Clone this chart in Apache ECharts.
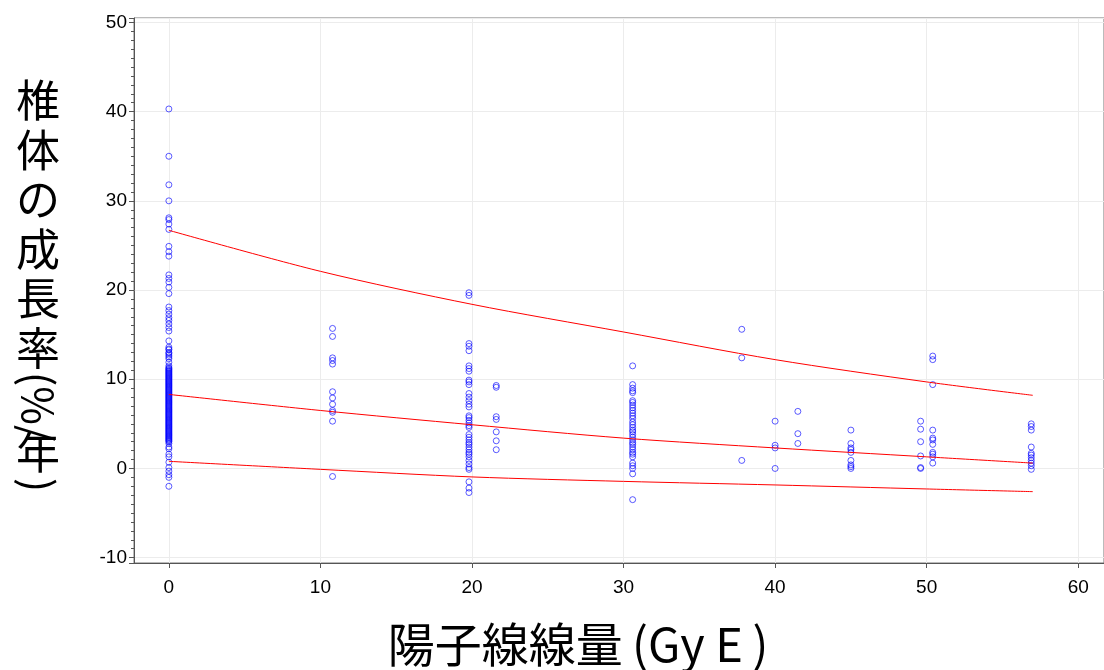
<!DOCTYPE html>
<html>
<head>
<meta charset="utf-8">
<script src="https://cdn.jsdelivr.net/npm/echarts@6/dist/echarts.min.js"></script>
<style>
html, body { margin: 0; padding: 0; background: #fff; }
#main { width: 1104px; height: 670px; }
</style>
</head>
<body>
<div id="main"></div>
<script>
// dose levels (Gy E) and growth rate values observed at each level
var dose0 = [40.3, 35.0, 31.8, 30.0, 28.1, 27.9, 27.4, 26.8, 24.9, 24.3, 23.8, 21.7, 21.3, 20.9, 20.3, 19.6,
    18.1, 17.7, 17.3, 16.9, 16.6, 16.2, 15.8, 15.4, 14.3, 13.6, 13.4, 13.3, 13.0, 12.9, 12.7, 12.5, 12.3,
    11.9, 11.5, 11.3, 11.2, 11.1, 11.0, 10.9, 10.8, 10.7, 10.6, 10.5, 10.4, 10.3, 10.2, 10.1, 10.0, 9.9,
    9.8, 9.7, 9.6, 9.5, 9.4, 9.3, 9.2, 9.1, 9.0, 8.9, 8.8, 8.7, 8.6, 8.5, 8.4, 8.3, 8.2, 8.1, 8.0, 7.9,
    7.8, 7.7, 7.6, 7.5, 7.4, 7.3, 7.2, 7.1, 7.0, 6.9, 6.8, 6.7, 6.6, 6.5, 6.4, 6.3, 6.2, 6.1, 6.0, 5.9,
    5.8, 5.7, 5.6, 5.5, 5.4, 5.3, 5.2, 5.1, 5.0, 4.9, 4.8, 4.7, 4.6, 4.5, 4.4, 4.3, 4.2, 4.1, 4.0, 3.9,
    3.8, 3.7, 3.6, 3.5, 3.4, 3.3, 3.2, 3.1, 3.0, 2.8, 2.4, 2.2, 1.6, 1.3, 0.7, 0.1, -0.3, -0.7, -1.0, -2.0];
var dose10_8 = [15.7, 14.8, 12.4, 12.1, 11.7, 8.6, 7.9, 7.2, 6.5, 6.3, 5.3, -0.9];
var dose19_8 = [19.7, 19.4, 14.0, 13.7, 13.2, 11.5, 11.2, 10.9, 9.9, 9.7, 9.4, 8.4, 8.0, 7.6, 7.2, 6.9,
    5.9, 5.7, 5.4, 5.1, 4.8, 4.6, 3.8, 3.5, 3.2, 2.9, 2.7, 2.4, 2.1, 1.8, 1.6, 1.3, 0.9, 0.5, 0.1, -0.1,
    -1.5, -2.2, -2.7];
var dose21_6 = [9.3, 9.1, 5.8, 5.5, 4.1, 3.1, 2.1];
var dose30_6 = [11.5, 9.4, 9.0, 8.7, 8.5, 7.6, 7.4, 7.1, 6.8, 6.5, 6.2, 5.9, 5.6, 5.2, 4.9, 4.6, 4.3, 4.1,
    3.8, 3.5, 3.2, 2.9, 2.7, 2.4, 2.1, 1.8, 1.6, 1.3, 0.6, 0.3, 0.0, -0.6, -3.5];
var dose37_8 = [15.6, 12.4, 0.9];
var dose40 = [5.3, 2.6, 2.3, 0.0];
var dose41_5 = [6.4, 3.9, 2.8];
var dose45 = [4.3, 2.8, 2.3, 2.1, 1.8, 0.9, 0.4, 0.2, 0.0];
var dose49_6 = [5.3, 4.4, 3.0, 1.4, 0.0, 0.1];
var dose50_4 = [12.6, 12.2, 9.4, 4.3, 3.4, 3.2, 2.7, 1.8, 1.6, 1.3, 0.6];
var dose56_9 = [5.0, 4.7, 4.3, 2.4, 1.7, 1.5, 1.2, 0.9, 0.6, 0.3, -0.1];

var doseLevels = [0, 10.8, 19.8, 21.6, 30.6, 37.8, 40, 41.5, 45, 49.6, 50.4, 56.9];
var doseValues = [dose0, dose10_8, dose19_8, dose21_6, dose30_6, dose37_8, dose40, dose41_5, dose45, dose49_6, dose50_4, dose56_9];

// fitted curve and its band
var curveX = [0, 10, 20, 30, 40, 50, 57];
var upperY = [26.7, 22.1, 18.4, 15.3, 12.2, 9.7, 8.2];
var fitY = [8.3, 6.5, 4.9, 3.4, 2.3, 1.3, 0.6];
var lowerY = [0.8, -0.1, -0.95, -1.45, -1.85, -2.3, -2.6];

var points = [];
doseLevels.forEach(function (d, i) {
    doseValues[i].forEach(function (v) { points.push([d, v]); });
});

function curve(ys) {
    return curveX.map(function (x, i) { return [x, ys[i]]; });
}

var chartDom = document.getElementById('main');
var myChart = echarts.init(chartDom);
var option;

var lineStyle = { color: '#ff0000', width: 1 };
var cjk = '"Noto Sans CJK JP", sans-serif';
var latin = '"Liberation Sans", Arial, sans-serif';

option = {
    animation: false,
    backgroundColor: '#ffffff',
    grid: {
        left: 134,
        top: 18,
        right: 0,
        bottom: 107,
        show: true,
        borderColor: '#777',
        borderWidth: 1,
        backgroundColor: 'transparent'
    },
    xAxis: {
        type: 'value',
        min: -2.3,
        max: 61.7,
        splitNumber: 6,
        axisLine: { show: true, onZero: false, lineStyle: { color: '#555', width: 1 } },
        axisTick: { show: true, length: 5, lineStyle: { color: '#555' } },
        axisLabel: {
            color: '#000', fontSize: 19, margin: 15, fontFamily: latin,
            showMinLabel: false, showMaxLabel: false
        },
        splitLine: { show: true, lineStyle: { color: '#ececec', width: 1 } }
    },
    yAxis: {
        type: 'value',
        min: -10.6,
        max: 50.5,
        splitNumber: 6,
        axisLine: { show: true, onZero: false, lineStyle: { color: '#555', width: 1 } },
        axisTick: { show: true, length: 5, lineStyle: { color: '#555' } },
        minorTick: { show: true, splitNumber: 10, length: 3, lineStyle: { color: '#555' } },
        axisLabel: {
            color: '#000', fontSize: 19, margin: 7, fontFamily: latin,
            showMinLabel: false, showMaxLabel: false
        },
        splitLine: { show: true, lineStyle: { color: '#ececec', width: 1 } }
    },
    graphic: [
        {
            type: 'text', x: 578, y: 621,
            style: { text: '陽子線線量\u2009(Gy E\u2009)', font: '47px ' + cjk, fill: '#000', align: 'center' }
        },
        {
            type: 'text', x: 38, y: 76,
            style: {
                text: '椎\n体\nの\n成\n長\n率', font: '44px ' + cjk, fill: '#000',
                align: 'center', lineHeight: 49.5
            }
        },
        {
            type: 'text', x: 38, y: 372, rotation: -Math.PI / 2,
            style: { text: '(%/', font: '42px ' + cjk, fill: '#000', align: 'left', verticalAlign: 'middle' }
        },
        {
            type: 'text', x: 38, y: 430,
            style: { text: '年', font: '44px ' + cjk, fill: '#000', align: 'center' }
        },
        {
            type: 'text', x: 38, y: 478, rotation: -Math.PI / 2,
            style: { text: ')', font: '42px ' + cjk, fill: '#000', align: 'left', verticalAlign: 'middle' }
        }
    ],
    series: [
        {
            type: 'scatter',
            data: points,
            symbol: 'circle',
            symbolSize: 6,
            itemStyle: { color: 'rgba(0,0,0,0)', borderColor: 'rgba(0,0,255,0.8)', borderWidth: 1 },
            z: 3
        },
        { type: 'line', data: curve(upperY), smooth: 0.3, showSymbol: false, lineStyle: lineStyle, z: 4 },
        { type: 'line', data: curve(fitY), smooth: 0.3, showSymbol: false, lineStyle: lineStyle, z: 4 },
        { type: 'line', data: curve(lowerY), smooth: 0.3, showSymbol: false, lineStyle: lineStyle, z: 4 }
    ]
};

option && myChart.setOption(option);
</script>
</body>
</html>
